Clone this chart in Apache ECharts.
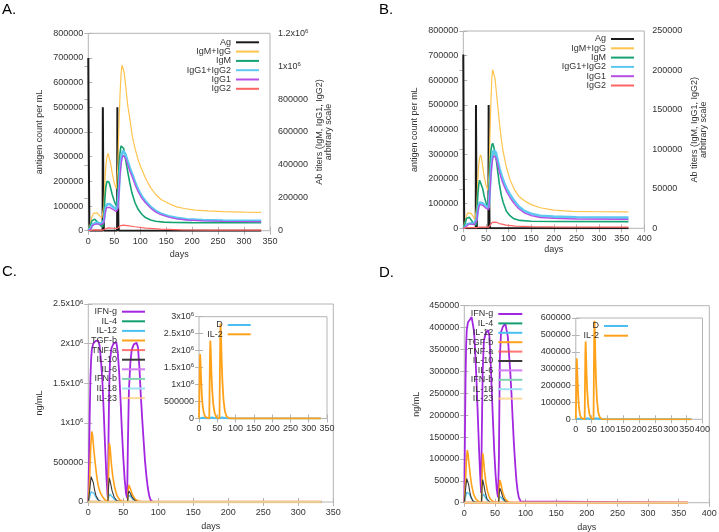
<!DOCTYPE html>
<html><head><meta charset="utf-8">
<script src="https://cdn.jsdelivr.net/npm/echarts@6/dist/echarts.min.js"></script>
<style>html,body{margin:0;padding:0;background:#fff}#c{width:719px;height:532px}</style>
</head><body><div id="c"></div>
<script>
// ---------- Panel A (antigen left axis, antibody titers right axis) ----------
const A_Ag = [[0,700000],[1,300000],[2,30000],[3,0],[27.5,0],[28,500000],[29,150000],[30,0],[55.5,0],[56,500000],[57,200000],[58,20000],[59,0],[333,0]];
const A_IgMIgG = [[0,0],[2,0],[4,40000],[7,85000],[10,105000],[13,112000],[17,108000],[22,90000],[26,78000],[28,72000],[30,150000],[32,300000],[34,400000],[36,450000],[38,470000],[40,460000],[43,410000],[46,350000],[50,290000],[54,255000],[56,250000],[57,400000],[59,640000],[61,820000],[63,950000],[65,1007000],[67,1000000],[69,965000],[72,880000],[76,760000],[80,680000],[85,570000],[90,500000],[96,430000],[102,380000],[110,320000],[120,262000],[130,220000],[140,190000],[155,165000],[170,145000],[185,135000],[205,125000],[230,120000],[260,116000],[300,113000],[333,111000]];
const A_IgM = [[0,0],[2,0],[4,30000],[7,60000],[10,71000],[12,70000],[16,58000],[20,42000],[24,30000],[28,24000],[30,80000],[32,200000],[34,270000],[36,300000],[37.5,308000],[40,295000],[43,260000],[46,220000],[50,180000],[54,150000],[56,140000],[57,220000],[59,380000],[61,470000],[63,515000],[64.5,527000],[66,520000],[68,500000],[70,470000],[73,410000],[77,340000],[80,290000],[84,230000],[90,170000],[96,130000],[103,100000],[110,80000],[120,65000],[130,57000],[145,52000],[165,50000],[200,49000],[333,48000]];
const A_IgG12 = [[0,0],[3,0],[5,15000],[8,38000],[11,46000],[15,48000],[20,46000],[25,43000],[28,41000],[30,60000],[32,110000],[34,145000],[36,160000],[38.5,167000],[41,162000],[45,152000],[50,140000],[54,130000],[56,126000],[57,150000],[59,250000],[61,360000],[63,430000],[65,470000],[67,487000],[69,485000],[72,460000],[76,420000],[80,380000],[85,340000],[90,295000],[96,250000],[103,210000],[110,180000],[120,145000],[130,120000],[140,103000],[155,88000],[170,78000],[190,70000],[220,65000],[260,62000],[333,60000]];
const A_IgG1 = [[0,0],[3,0],[5,12000],[8,32000],[11,39000],[15,41000],[20,40000],[25,37000],[28,35000],[30,50000],[32,95000],[34,128000],[36,141000],[38.5,146000],[41,142000],[45,134000],[50,124000],[54,116000],[56,112000],[57,132000],[59,225000],[61,330000],[63,400000],[65,440000],[67,458000],[69,460000],[72,438000],[76,400000],[80,362000],[85,323000],[90,280000],[96,237000],[103,198000],[110,170000],[120,137000],[130,113000],[140,97000],[155,82000],[170,72000],[190,65000],[220,60000],[260,57000],[333,55000]];
const A_IgG2 = [[0,0],[5,2000],[12,5000],[28,4000],[30,10000],[38,17000],[50,15000],[56,14000],[58,20000],[62,30000],[67,34000],[75,31000],[90,24000],[110,16000],[140,9000],[180,5500],[240,4000],[333,3500]];

// ---------- Panel B ----------
const B_Ag = [[0,705000],[1,250000],[2,30000],[3,0],[27.5,0],[28,500000],[29,150000],[30,0],[55.5,0],[56,500000],[57,180000],[58,20000],[59,0],[365,0]];
const B_IgMIgG = [[0,0],[2,0],[4,8000],[7,16000],[10,19500],[13,20300],[17,19000],[22,15000],[26,11000],[28,9500],[30,30000],[32,60000],[34,80000],[36,89000],[38,92900],[40,90000],[43,78000],[46,66000],[50,55000],[54,48000],[56,46000],[57,70000],[59,120000],[61,160000],[63,190000],[65,201000],[66.5,203500],[68,200000],[70,190000],[73,173000],[77,150000],[80.5,130000],[84,113000],[88,97000],[95,78000],[103,62000],[112,50000],[122,41000],[135,35000],[150,30000],[170,26000],[200,23000],[240,21500],[300,21000],[365,20700]];
const B_IgM = [[0,0],[2,0],[4,6000],[7,12500],[10,14700],[13,14000],[17,11000],[21,7500],[25,5000],[28,4000],[30,20000],[32,42000],[34,55000],[36,61000],[37.5,62500],[40,59000],[43,50000],[46,41000],[50,33000],[54,27000],[56,25300],[57,45000],[59,80000],[61,98000],[63,105000],[65,107700],[67,104000],[70,96000],[73,86000],[77,68000],[80,55000],[84,42000],[88,33000],[95,22000],[103,16000],[112,12000],[125,10000],[150,9000],[200,8600],[365,8400]];
const B_IgG12 = [[0,0],[3,0],[5,2000],[8,5000],[12,6300],[18,6300],[24,5500],[28,5000],[30,12000],[32,22000],[34,29000],[36,32500],[38.5,33700],[42,32000],[46,30000],[50,28000],[54,26500],[56,26000],[57,32000],[59,52000],[61,72000],[63,86000],[65,94000],[67,98500],[69,100000],[72,96000],[76,86000],[80,76000],[85,66000],[90,58000],[96,50000],[103,43000],[112,35000],[122,28000],[135,22000],[150,18500],[170,16000],[200,14800],[250,14000],[365,13500]];
const B_IgG1 = [[0,0],[3,0],[5,1500],[8,4000],[12,5300],[18,5400],[24,4700],[28,4200],[30,10000],[32,19500],[34,26500],[36,30000],[38.5,31000],[42,29500],[46,27500],[50,25500],[54,24000],[56,23500],[57,29000],[59,47000],[61,66000],[63,80000],[65,88000],[67,92000],[69,93000],[72,89500],[76,80000],[80,70500],[85,61000],[90,53500],[96,46000],[103,39000],[112,31500],[122,25000],[135,19500],[150,16000],[170,13700],[200,12500],[250,11800],[365,11400]];
const B_IgG2 = [[0,0],[8,800],[28,800],[35,1500],[56,1500],[60,4000],[64,7500],[67,8500],[72,7800],[80,6000],[95,4000],[115,2800],[150,2000],[200,1700],[365,1500]];

// ---------- Panel C (cytokines) ----------
const C_IFNg = [[0,0],[1,500000],[2,1100000],[3,1550000],[4,1800000],[5,1920000],[7,2000000],[10,2030000],[14,2040000],[16,1980000],[18,1800000],[20,1550000],[22,1150000],[24,700000],[26,300000],[27.5,90000],[28,60000],[29,900000],[30,1500000],[31,1780000],[33,1940000],[36,2000000],[40,2020000],[42,1900000],[44,1650000],[46,1300000],[48,900000],[50,560000],[52,280000],[54,100000],[55.5,50000],[56.5,700000],[58,1400000],[60,1750000],[62,1920000],[65,1990000],[69,2010000],[71,1950000],[73,1700000],[75,1350000],[77,1050000],[79,780000],[81,520000],[83,330000],[85,180000],[87,80000],[89,25000],[92,0],[333,0]];
const C_TGFb = [[0,0],[2,300000],[3.5,700000],[5,890000],[6,850000],[8,650000],[10,480000],[12,330000],[14,210000],[17,120000],[20,70000],[24,25000],[28,5000],[29,400000],[30,740000],[31,700000],[33,480000],[35,320000],[38,170000],[41,80000],[45,25000],[50,5000],[56,0],[57,150000],[58,215000],[60,170000],[63,90000],[67,35000],[72,8000],[80,0],[333,0]];
const C_IL10 = [[0,0],[2,150000],[4,320000],[5,340000],[7,250000],[9,150000],[11,80000],[14,30000],[18,5000],[28,0],[29,200000],[30,305000],[32,230000],[34,140000],[37,60000],[41,15000],[48,0],[56,0],[57,100000],[58,140000],[60,110000],[63,55000],[67,15000],[72,0],[333,0]];
const C_IL12 = [[0,0],[2,60000],[4,130000],[6,140000],[8,110000],[11,60000],[14,25000],[18,5000],[28,0],[29,60000],[31,100000],[33,85000],[36,45000],[40,12000],[48,0],[56,0],[57,55000],[59,85000],[61,65000],[64,32000],[68,9000],[74,0],[333,0]];
const C_zero = [[0,0],[333,0]];
const C_IL2 = [[0,0],[1,600000],[2,1500000],[3,1900000],[4,1700000],[6,1100000],[8,650000],[10,380000],[13,170000],[17,50000],[22,8000],[28,0],[29,900000],[30,1900000],[31,2300000],[32,2050000],[34,1350000],[36,850000],[39,420000],[43,150000],[48,30000],[56,0],[57,1200000],[58,2300000],[59,2800000],[60,2500000],[62,1700000],[64,1100000],[67,550000],[71,200000],[76,50000],[83,5000],[90,0],[333,0]];
const C_D = [[0,0],[2,50000],[5,40000],[10,20000],[20,5000],[28,0],[30,45000],[35,30000],[45,8000],[56,0],[58,45000],[63,30000],[75,8000],[90,0],[333,0]];

// ---------- Panel D ----------
const D_IFNg = [[0,0],[1,150000],[2,280000],[3,360000],[4,395000],[6,412000],[9,418000],[12,424000],[14,420000],[16,390000],[18,340000],[20,275000],[22,200000],[24,125000],[26,60000],[27.5,22000],[28.5,150000],[30,300000],[32,370000],[35,388000],[39,394000],[41,380000],[43,320000],[45,250000],[47,180000],[49,115000],[51,65000],[53,30000],[55,12000],[56.5,100000],[58,330000],[60,390000],[63,402000],[67,409000],[69,405000],[71,380000],[73,340000],[75,300000],[77,250000],[79,190000],[81,135000],[83,90000],[85,52000],[87,27000],[89,12000],[92,3000],[95,0],[365,0]];
const D_TGFb = [[0,0],[2,50000],[3.5,100000],[5,120000],[6,112000],[8,85000],[10,60000],[12,40000],[15,20000],[19,8000],[24,2000],[28,0],[29,60000],[30,113000],[31,105000],[33,72000],[35,48000],[38,25000],[42,9000],[48,2000],[56,0],[57,35000],[58,52000],[60,42000],[63,22000],[67,8000],[73,1000],[80,0],[365,0]];
const D_IL10 = [[0,0],[2,30000],[4,55000],[5,58000],[7,42000],[9,25000],[11,13000],[14,4000],[19,0],[28,0],[29,35000],[30,53000],[32,40000],[34,24000],[37,9000],[42,1000],[56,0],[57,22000],[58,33000],[60,26000],[63,12000],[67,3000],[73,0],[365,0]];
const D_IL12 = [[0,0],[2,12000],[4,24000],[6,25000],[8,20000],[11,11000],[14,5000],[19,1000],[28,0],[29,12000],[31,20000],[33,16000],[36,8000],[40,2000],[56,0],[57,9000],[59,14000],[61,11000],[64,5000],[68,1000],[73,0],[365,0]];
const D_zero = [[0,0],[365,0]];
const D_IL2 = [[0,0],[1,120000],[2,290000],[3,362000],[4,320000],[6,210000],[8,125000],[10,70000],[13,30000],[17,8000],[22,1000],[28,0],[29,200000],[30,380000],[31,461000],[32,410000],[34,270000],[36,170000],[39,85000],[43,30000],[48,6000],[56,0],[57,250000],[58,470000],[59,584000],[60,520000],[62,350000],[64,225000],[67,110000],[71,40000],[76,10000],[83,1000],[90,0],[365,0]];
const D_D = [[0,0],[2,10000],[5,8000],[10,4000],[20,1000],[28,0],[30,9000],[35,6000],[45,1500],[56,0],[58,9000],[63,6000],[75,1500],[90,0],[365,0]];

const abNames = ['Ag','IgM+IgG','IgM','IgG1+IgG2','IgG1','IgG2'];
const cyNames = ['IFN-g','IL-4','IL-12','TGF-b','TNF-a','IL-10','IL-6','IFN-b','IL-18','IL-23'];
const insetNames = ['D','IL-2'];

const FONT = 'Liberation Sans';
const TXT = '#333';
const BORDER = '#b4b4b4';

function sci(v){ if (v >= 1e6) return (v/1e6) + 'x10{s|6}'; return String(v); }
const rich = { s: { fontSize: 6, verticalAlign: 'top', fontFamily: FONT, color: TXT, padding:[0,0,4,0] } };

function grid(l,t,r,b){ return { left:l, top:t, width:r-l, height:b-t, show:true, borderColor:BORDER, borderWidth:1, backgroundColor:'transparent', containLabel:false, outerBoundsMode:'none' }; }
const tick = { inside:true, length:4, lineStyle:{ color:BORDER } };
function xAx(gi, max, name, gap){
  return { type:'value', gridIndex:gi, min:0, max:max, interval:50, axisLine:{show:false}, axisTick:tick,
    splitLine:{show:false}, axisLabel:{ fontSize:9, color:TXT, fontFamily:FONT, margin:6 },
    name:name, nameLocation:'middle', nameGap:gap, nameTextStyle:{ fontSize:9, color:TXT, fontFamily:FONT } };
}
function xTop(gi, max){ return { type:'value', gridIndex:gi, position:'top', min:0, max:max, interval:50, axisLine:{show:false}, axisTick:tick, axisLabel:{show:false}, splitLine:{show:false} }; }
function yAx(gi, max, itv, pos, name, gap, margin){
  return { type:'value', gridIndex:gi, position:pos, min:0, max:max, interval:itv, axisLine:{show:false}, axisTick:tick,
    splitLine:{show:false}, axisLabel:{ fontSize:9, color:TXT, fontFamily:FONT, margin:margin, formatter:sci, rich:rich },
    name:name, nameLocation:'middle', nameGap:gap, nameTextStyle:{ fontSize:9, color:TXT, fontFamily:FONT, lineHeight:9 } };
}
function yMirror(gi, max, itv){ return { type:'value', gridIndex:gi, position:'right', min:0, max:max, interval:itv, axisLine:{show:false}, axisTick:tick, axisLabel:{show:false}, splitLine:{show:false} }; }

const STY = {
  'Ag':['#1a1a1a',2], 'IgM+IgG':['#ffc44d',1.2], 'IgM':['#16a374',1.6], 'IgG1+IgG2':['#5cc8f2',2.6], 'IgG1':['#b64ee6',1.3], 'IgG2':['#ff6464',1.2],
  'IFN-g':['#a326e0',1.8], 'IL-4':['#13a070',1.5], 'IL-12':['#4cc0f0',1.3], 'TGF-b':['#ffa21a',1.6], 'TNF-a':['rgba(255,80,80,0.8)',2.5],
  'IL-10':['#3a3a3a',1.1], 'IL-6':['#d27cf5',1.3], 'IFN-b':['#7fd3b2',1.3], 'IL-18':['#9fe0f2',1.3], 'IL-23':['rgba(255,205,120,0.75)',2.5],
  'D':['#4cbdf0',2], 'IL-2':['#ffa21a',1.8]
};
function ln(name, data, xi, yi){
  const s = STY[name];
  return { type:'line', name:name, data:data, xAxisIndex:xi, yAxisIndex:yi, symbol:'none', showSymbol:false,
    lineStyle:{ color:s[0], width:s[1] }, itemStyle:{ color:s[0] }, animation:false, silent:true };
}
function legend(names, right, top, w, gap){
  return { data:names, orient:'vertical', align:'right', right:right, top:top, itemWidth:w, itemHeight:8, itemGap:gap,
    padding:0, selectedMode:false, itemStyle:{ opacity:0, borderWidth:0 }, textStyle:{ fontSize:9, color:TXT, fontFamily:FONT } };
}

const series = [
  ln('Ag',A_Ag,0,0), ln('IgM+IgG',A_IgMIgG,0,1), ln('IgM',A_IgM,0,1), ln('IgG1+IgG2',A_IgG12,0,1), ln('IgG1',A_IgG1,0,1), ln('IgG2',A_IgG2,0,1),
  ln('Ag',B_Ag,1,2), ln('IgM+IgG',B_IgMIgG,1,3), ln('IgM',B_IgM,1,3), ln('IgG1+IgG2',B_IgG12,1,3), ln('IgG1',B_IgG1,1,3), ln('IgG2',B_IgG2,1,3),
  ln('IFN-g',C_IFNg,2,4), ln('IL-4',C_zero,2,4), ln('IL-12',C_IL12,2,4), ln('TGF-b',C_TGFb,2,4), ln('TNF-a',C_zero,2,4),
  ln('IL-10',C_IL10,2,4), ln('IL-6',C_zero,2,4), ln('IFN-b',C_zero,2,4), ln('IL-18',C_zero,2,4), ln('IL-23',C_zero,2,4),
  ln('D',C_D,3,5), ln('IL-2',C_IL2,3,5),
  ln('IFN-g',D_IFNg,4,6), ln('IL-4',D_zero,4,6), ln('IL-12',D_IL12,4,6), ln('TGF-b',D_TGFb,4,6), ln('TNF-a',D_zero,4,6),
  ln('IL-10',D_IL10,4,6), ln('IL-6',D_zero,4,6), ln('IFN-b',D_zero,4,6), ln('IL-18',D_zero,4,6), ln('IL-23',D_zero,4,6),
  ln('D',D_D,5,7), ln('IL-2',D_IL2,5,7)
];

const option = {
  backgroundColor:'#fff',
  animation:false,
  grid:[ grid(88.3,33.3,270,230.7), grid(463.3,31,644.3,228.3), grid(88.3,304,333.3,502), grid(199,316.7,327,418.5), grid(464.3,305.7,709.3,502.7), grid(575.8,318,702.5,419.3) ],
  xAxis:[ xAx(0,350,'days',19), xAx(1,400,'days',17), xAx(2,350,'days',20), xAx(3,350,'',0), xAx(4,400,'days',20), xAx(5,400,'',0),
    xTop(0,350), xTop(1,400), xTop(2,350), xTop(3,350), xTop(4,400), xTop(5,400) ],
  yAxis:[
    yAx(0,800000,100000,'left','antigen count per mL',44,5),
    yAx(0,1200000,200000,'right','Ab titers (IgM, IgG1, IgG2)\narbitrary scale',45,8),
    yAx(1,800000,100000,'left','antigen count per mL',44,5),
    yAx(1,250000,50000,'right','Ab titers (IgM, IgG1, IgG2)\narbitrary scale',46,8),
    yAx(2,2500000,500000,'left','ng/mL',44,5),
    yAx(3,3000000,500000,'left','',0,5),
    yAx(4,450000,50000,'left','ng/mL',43,5),
    yAx(5,600000,100000,'left','',0,5),
    yMirror(2,2500000,500000), yMirror(3,3000000,500000), yMirror(4,450000,50000), yMirror(5,600000,100000)
  ],
  legend:[ legend(abNames,459,37.8,23,0.3), legend(abNames,84,34.5,23,0.3), legend(cyNames,573,307.2,23,0.6), legend(cyNames,195.7,309.5,24,0.4),
    legend(insetNames,467.3,320.5,23,0.3), legend(insetNames,90,321.5,24,0.7) ],
  graphic:[
    { type:'text', left:2, top:2, style:{ text:'A.', fontSize:15, fontFamily:FONT, fill:'#000' } },
    { type:'text', left:379, top:2, style:{ text:'B.', fontSize:15, fontFamily:FONT, fill:'#000' } },
    { type:'text', left:2, top:264, style:{ text:'C.', fontSize:15, fontFamily:FONT, fill:'#000' } },
    { type:'text', left:379, top:265, style:{ text:'D.', fontSize:15, fontFamily:FONT, fill:'#000' } }
  ],
  series:series
};
const chart = echarts.init(document.getElementById('c'), null, { renderer:'canvas' });
chart.setOption(option);
</script></body></html>
